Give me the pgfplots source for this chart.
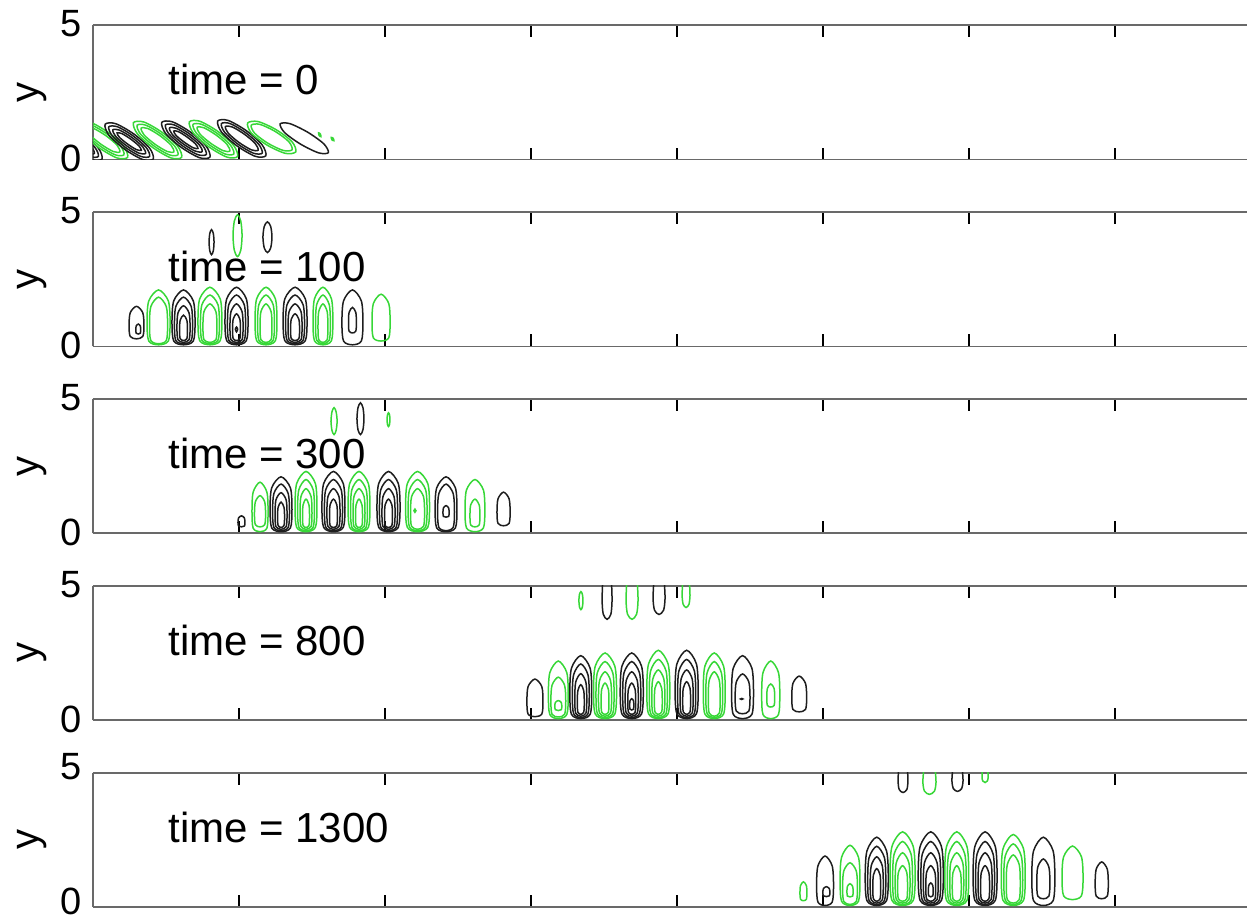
\documentclass[border=0pt]{standalone}
\usepackage{fontspec}
\setmainfont{Liberation Sans}
\usepackage{pgfplots}
\pgfplotsset{compat=1.18}

\definecolor{cblack}{RGB}{30,30,30}
\definecolor{cgreen}{RGB}{55,215,55}
\definecolor{spine}{RGB}{105,105,105}

\pgfplotsset{
  panel/.style={
    scale only axis, width=577pt, height=67.25pt,
    xmin=0, xmax=7.904, ymin=0, ymax=5,
    axis x line*=box, axis y line*=left,
    axis line style={spine, line width=0.9pt},
    xtick={1,2,3,4,5,6,7}, xticklabels={},
    ytick={0,5},
    tick align=inside, major tick length=6pt,
    tick style={black, line width=0.7pt},
    /pgf/number format/assume math mode=true,
    yticklabel style={font=\fontsize{19}{23}\selectfont, inner sep=0pt, xshift=-5.5pt, yshift=0.5pt},
    ylabel={y},
    every axis y label/.style={at={(axis description cs:-0.0529,0.5)}, rotate=90, anchor=center, font=\fontsize{20}{24}\selectfont},
  },
  closedline/.style={line width=0.75pt, smooth cycle},
  openline/.style={line width=0.75pt, smooth},
}
% closed contour lines
\newcommand\blk[1]{\addplot[closedline, cblack] coordinates {#1};}
\newcommand\grn[1]{\addplot[closedline, cgreen] coordinates {#1};}
% contour lines leaving through the top of the domain
\newcommand\blko[1]{\addplot[openline, cblack] coordinates {#1};}
\newcommand\grno[1]{\addplot[openline, cgreen] coordinates {#1};}
\newcommand\stamp[1]{\node[anchor=base west, inner sep=0pt, font=\fontsize{21}{25}\selectfont] at (axis cs:0.514,2.42) {time = #1};}

\begin{document}
\begin{tikzpicture}

% ---------------- time = 0 ----------------
\begin{axis}[panel, at={(0pt,0pt)}, anchor=north west]
\blk{(-0.268,1.310) (-0.196,1.332) (-0.072,0.951) (0.036,0.428) (0.062,0.020) (-0.010,-0.002) (-0.134,0.379) (-0.242,0.902)}
\blk{(-0.243,1.213) (-0.183,1.216) (-0.079,0.888) (0.013,0.448) (0.037,0.117) (-0.023,0.114) (-0.127,0.442) (-0.219,0.882)}
\blk{(-0.215,1.104) (-0.169,1.091) (-0.086,0.824) (-0.011,0.477) (0.009,0.226) (-0.037,0.239) (-0.120,0.506) (-0.195,0.853)}
\grn{(-0.093,1.370) (-0.021,1.392) (0.103,1.011) (0.211,0.488) (0.237,0.080) (0.165,0.058) (0.041,0.439) (-0.067,0.962)}
\grn{(-0.068,1.273) (-0.008,1.276) (0.096,0.948) (0.188,0.508) (0.212,0.177) (0.152,0.174) (0.048,0.502) (-0.044,0.942)}
\grn{(-0.040,1.164) (0.006,1.151) (0.089,0.884) (0.164,0.537) (0.184,0.286) (0.138,0.299) (0.055,0.566) (-0.020,0.913)}
\blk{(0.083,1.310) (0.155,1.332) (0.279,0.951) (0.387,0.428) (0.413,0.020) (0.341,-0.002) (0.217,0.379) (0.109,0.902)}
\blk{(0.108,1.213) (0.168,1.216) (0.272,0.888) (0.364,0.448) (0.388,0.117) (0.328,0.114) (0.224,0.442) (0.132,0.882)}
\blk{(0.136,1.104) (0.182,1.091) (0.265,0.824) (0.340,0.477) (0.360,0.226) (0.314,0.239) (0.231,0.506) (0.156,0.853)}
\blk{(0.165,0.988) (0.198,0.963) (0.258,0.760) (0.314,0.511) (0.331,0.342) (0.298,0.367) (0.238,0.570) (0.182,0.819)}
\grn{(0.277,1.370) (0.349,1.392) (0.473,1.011) (0.581,0.488) (0.607,0.080) (0.535,0.058) (0.411,0.439) (0.303,0.962)}
\grn{(0.302,1.273) (0.362,1.276) (0.466,0.948) (0.558,0.508) (0.582,0.177) (0.522,0.174) (0.418,0.502) (0.326,0.942)}
\grn{(0.330,1.164) (0.376,1.151) (0.459,0.884) (0.534,0.537) (0.554,0.286) (0.508,0.299) (0.425,0.566) (0.350,0.913)}
\blk{(0.471,1.380) (0.543,1.402) (0.667,1.021) (0.775,0.498) (0.801,0.090) (0.729,0.068) (0.605,0.449) (0.497,0.972)}
\blk{(0.496,1.283) (0.556,1.286) (0.660,0.958) (0.752,0.518) (0.776,0.187) (0.716,0.184) (0.612,0.512) (0.520,0.952)}
\blk{(0.524,1.174) (0.570,1.161) (0.653,0.894) (0.728,0.547) (0.748,0.296) (0.702,0.309) (0.619,0.576) (0.544,0.923)}
\blk{(0.553,1.058) (0.586,1.033) (0.646,0.830) (0.702,0.581) (0.719,0.412) (0.686,0.437) (0.626,0.640) (0.570,0.889)}
\grn{(0.660,1.400) (0.732,1.422) (0.856,1.041) (0.964,0.518) (0.990,0.110) (0.918,0.088) (0.794,0.469) (0.686,0.992)}
\grn{(0.685,1.303) (0.745,1.306) (0.849,0.978) (0.941,0.538) (0.965,0.207) (0.905,0.204) (0.801,0.532) (0.709,0.972)}
\grn{(0.713,1.194) (0.759,1.181) (0.842,0.914) (0.917,0.567) (0.937,0.316) (0.891,0.329) (0.808,0.596) (0.733,0.943)}
\blk{(0.854,1.430) (0.926,1.452) (1.050,1.071) (1.158,0.548) (1.184,0.140) (1.112,0.118) (0.988,0.499) (0.880,1.022)}
\blk{(0.879,1.333) (0.939,1.336) (1.043,1.008) (1.135,0.568) (1.159,0.237) (1.099,0.234) (0.995,0.562) (0.903,1.002)}
\blk{(0.907,1.224) (0.953,1.211) (1.036,0.944) (1.111,0.597) (1.131,0.346) (1.085,0.359) (1.002,0.626) (0.927,0.973)}
\grn{(1.059,1.355) (1.131,1.410) (1.255,1.106) (1.363,0.660) (1.389,0.285) (1.317,0.230) (1.193,0.534) (1.085,0.980)}
\grn{(1.084,1.275) (1.144,1.305) (1.248,1.043) (1.340,0.669) (1.364,0.365) (1.304,0.335) (1.200,0.597) (1.108,0.971)}
\blk{(1.282,1.325) (1.349,1.332) (1.471,1.013) (1.581,0.582) (1.612,0.255) (1.545,0.248) (1.423,0.567) (1.313,0.998)}
\grn{(1.545,0.99) (1.557,0.95) (1.561,0.85) (1.549,0.89)}
\grn{(1.632,0.82) (1.645,0.79) (1.650,0.70) (1.637,0.73)}
\stamp{0}
\end{axis}

% ---------------- time = 100 ----------------
\begin{axis}[panel, at={(0pt,-93.45pt)}, anchor=north west]
\blk{(0.298,1.49) (0.341,1.25) (0.349,0.76) (0.341,0.37) (0.298,0.28) (0.255,0.37) (0.247,0.76) (0.255,1.25)}
\blk{(0.310,0.83) (0.324,0.76) (0.327,0.61) (0.324,0.49) (0.310,0.46) (0.296,0.49) (0.293,0.61) (0.296,0.76)}
\grn{(0.449,2.10) (0.516,1.69) (0.528,0.88) (0.516,0.20) (0.449,0.06) (0.382,0.20) (0.370,0.88) (0.382,1.69)}
\grn{(0.449,1.83) (0.502,1.48) (0.511,0.79) (0.502,0.22) (0.449,0.10) (0.396,0.22) (0.387,0.79) (0.396,1.48)}
\blk{(0.620,2.10) (0.687,1.69) (0.699,0.88) (0.687,0.20) (0.620,0.06) (0.553,0.20) (0.541,0.88) (0.553,1.69)}
\blk{(0.620,1.83) (0.673,1.48) (0.682,0.79) (0.673,0.22) (0.620,0.10) (0.567,0.22) (0.558,0.79) (0.567,1.48)}
\blk{(0.620,1.51) (0.658,1.24) (0.665,0.69) (0.658,0.25) (0.620,0.15) (0.582,0.25) (0.575,0.69) (0.582,1.24)}
\blk{(0.620,1.16) (0.643,0.97) (0.647,0.60) (0.643,0.29) (0.620,0.22) (0.597,0.29) (0.593,0.60) (0.597,0.97)}
\grn{(0.801,2.20) (0.871,1.77) (0.883,0.92) (0.871,0.21) (0.801,0.06) (0.731,0.21) (0.719,0.92) (0.731,1.77)}
\grn{(0.801,1.91) (0.856,1.55) (0.866,0.82) (0.856,0.23) (0.801,0.10) (0.746,0.23) (0.736,0.82) (0.746,1.55)}
\grn{(0.801,1.58) (0.842,1.29) (0.849,0.72) (0.842,0.25) (0.801,0.15) (0.760,0.25) (0.753,0.72) (0.760,1.29)}
\blk{(0.983,2.20) (1.050,1.77) (1.062,0.92) (1.050,0.21) (0.983,0.06) (0.916,0.21) (0.904,0.92) (0.916,1.77)}
\blk{(0.983,1.91) (1.036,1.55) (1.045,0.82) (1.036,0.23) (0.983,0.10) (0.930,0.23) (0.921,0.82) (0.930,1.55)}
\blk{(0.983,1.58) (1.021,1.29) (1.028,0.72) (1.021,0.25) (0.983,0.15) (0.945,0.25) (0.938,0.72) (0.945,1.29)}
\blk{(0.983,1.21) (1.006,1.01) (1.010,0.62) (1.006,0.29) (0.983,0.22) (0.960,0.29) (0.956,0.62) (0.960,1.01)}
\blk{(0.983,0.72) (0.991,0.64) (0.983,0.54) (0.975,0.64)}
\grn{(1.185,2.20) (1.249,1.77) (1.260,0.92) (1.249,0.21) (1.185,0.06) (1.121,0.21) (1.110,0.92) (1.121,1.77)}
\grn{(1.185,1.91) (1.234,1.55) (1.243,0.82) (1.234,0.23) (1.185,0.10) (1.136,0.23) (1.127,0.82) (1.136,1.55)}
\grn{(1.185,1.58) (1.220,1.29) (1.226,0.72) (1.220,0.25) (1.185,0.15) (1.150,0.25) (1.144,0.72) (1.150,1.29)}
\blk{(1.384,2.20) (1.454,1.77) (1.466,0.92) (1.454,0.21) (1.384,0.06) (1.314,0.21) (1.302,0.92) (1.314,1.77)}
\blk{(1.384,1.91) (1.439,1.55) (1.449,0.82) (1.439,0.23) (1.384,0.10) (1.329,0.23) (1.319,0.82) (1.329,1.55)}
\blk{(1.384,1.58) (1.425,1.29) (1.432,0.72) (1.425,0.25) (1.384,0.15) (1.343,0.25) (1.336,0.72) (1.343,1.29)}
\blk{(1.384,1.21) (1.410,1.01) (1.415,0.62) (1.410,0.29) (1.384,0.22) (1.358,0.29) (1.353,0.62) (1.358,1.01)}
\grn{(1.575,2.20) (1.633,1.77) (1.643,0.92) (1.633,0.21) (1.575,0.06) (1.517,0.21) (1.507,0.92) (1.517,1.77)}
\grn{(1.575,1.91) (1.618,1.55) (1.626,0.82) (1.618,0.23) (1.575,0.10) (1.532,0.23) (1.524,0.82) (1.532,1.55)}
\grn{(1.575,1.58) (1.604,1.29) (1.609,0.72) (1.604,0.25) (1.575,0.15) (1.546,0.25) (1.541,0.72) (1.546,1.29)}
\blk{(1.777,2.10) (1.838,1.69) (1.849,0.88) (1.838,0.20) (1.777,0.06) (1.716,0.20) (1.705,0.88) (1.716,1.69)}
\blk{(1.777,1.45) (1.800,1.26) (1.804,0.88) (1.800,0.57) (1.777,0.50) (1.754,0.57) (1.750,0.88) (1.754,1.26)}
\grn{(1.973,1.94) (2.026,1.59) (2.035,0.90) (2.026,0.32) (1.973,0.20) (1.920,0.32) (1.911,0.90) (1.920,1.59)}
\blk{(0.812,4.34) (0.824,4.20) (0.829,3.88) (0.824,3.55) (0.812,3.41) (0.800,3.55) (0.795,3.88) (0.800,4.20)}
\grn{(0.990,4.89) (1.012,4.66) (1.021,4.12) (1.012,3.57) (0.990,3.34) (0.968,3.57) (0.959,4.12) (0.968,4.66)}
\blk{(1.195,4.63) (1.217,4.46) (1.226,4.06) (1.217,3.66) (1.195,3.49) (1.173,3.66) (1.164,4.06) (1.173,4.46)}
\stamp{100}
\end{axis}

% ---------------- time = 300 ----------------
\begin{axis}[panel, at={(0pt,-186.9pt)}, anchor=north west]
\blk{(1.017,0.65) (1.037,0.57) (1.041,0.40) (1.037,0.27) (1.017,0.24) (0.997,0.27) (0.993,0.40) (0.997,0.57)}
\grn{(1.144,1.90) (1.191,1.53) (1.199,0.80) (1.191,0.19) (1.144,0.06) (1.097,0.19) (1.089,0.80) (1.097,1.53)}
\grn{(1.144,1.40) (1.176,1.17) (1.182,0.70) (1.176,0.32) (1.144,0.24) (1.112,0.32) (1.106,0.70) (1.112,1.17)}
\blk{(1.288,2.10) (1.352,1.69) (1.363,0.88) (1.352,0.20) (1.288,0.06) (1.224,0.20) (1.213,0.88) (1.224,1.69)}
\blk{(1.288,1.83) (1.337,1.48) (1.346,0.79) (1.337,0.22) (1.288,0.10) (1.239,0.22) (1.230,0.79) (1.239,1.48)}
\blk{(1.288,1.51) (1.323,1.24) (1.329,0.69) (1.323,0.25) (1.288,0.15) (1.253,0.25) (1.247,0.69) (1.253,1.24)}
\blk{(1.288,1.16) (1.308,0.97) (1.312,0.60) (1.308,0.29) (1.288,0.22) (1.268,0.29) (1.264,0.60) (1.268,0.97)}
\grn{(1.459,2.30) (1.523,1.85) (1.534,0.96) (1.523,0.22) (1.459,0.06) (1.395,0.22) (1.384,0.96) (1.395,1.85)}
\grn{(1.459,2.00) (1.508,1.62) (1.517,0.86) (1.508,0.23) (1.459,0.10) (1.410,0.23) (1.401,0.86) (1.410,1.62)}
\grn{(1.459,1.66) (1.494,1.36) (1.500,0.75) (1.494,0.26) (1.459,0.15) (1.424,0.26) (1.418,0.75) (1.424,1.36)}
\grn{(1.459,1.27) (1.479,1.06) (1.483,0.64) (1.479,0.29) (1.459,0.22) (1.439,0.29) (1.435,0.64) (1.439,1.06)}
\blk{(1.647,2.30) (1.714,1.85) (1.726,0.96) (1.714,0.22) (1.647,0.06) (1.580,0.22) (1.568,0.96) (1.580,1.85)}
\blk{(1.647,2.00) (1.700,1.62) (1.709,0.86) (1.700,0.23) (1.647,0.10) (1.594,0.23) (1.585,0.86) (1.594,1.62)}
\blk{(1.647,1.66) (1.685,1.36) (1.692,0.75) (1.685,0.26) (1.647,0.15) (1.609,0.26) (1.602,0.75) (1.609,1.36)}
\blk{(1.647,1.27) (1.670,1.06) (1.674,0.64) (1.670,0.29) (1.647,0.22) (1.624,0.29) (1.620,0.64) (1.624,1.06)}
\grn{(1.822,2.30) (1.886,1.85) (1.897,0.96) (1.886,0.22) (1.822,0.06) (1.758,0.22) (1.747,0.96) (1.758,1.85)}
\grn{(1.822,2.00) (1.871,1.62) (1.880,0.86) (1.871,0.23) (1.822,0.10) (1.773,0.23) (1.764,0.86) (1.773,1.62)}
\grn{(1.822,1.66) (1.857,1.36) (1.863,0.75) (1.857,0.26) (1.822,0.15) (1.787,0.26) (1.781,0.75) (1.787,1.36)}
\grn{(1.822,1.27) (1.842,1.06) (1.846,0.64) (1.842,0.29) (1.822,0.22) (1.802,0.29) (1.798,0.64) (1.802,1.06)}
\blk{(2.024,2.30) (2.091,1.85) (2.103,0.96) (2.091,0.22) (2.024,0.06) (1.957,0.22) (1.945,0.96) (1.957,1.85)}
\blk{(2.024,2.00) (2.077,1.62) (2.086,0.86) (2.077,0.23) (2.024,0.10) (1.971,0.23) (1.962,0.86) (1.971,1.62)}
\blk{(2.024,1.66) (2.062,1.36) (2.069,0.75) (2.062,0.26) (2.024,0.15) (1.986,0.26) (1.979,0.75) (1.986,1.36)}
\blk{(2.024,1.27) (2.047,1.06) (2.051,0.64) (2.047,0.29) (2.024,0.22) (2.001,0.29) (1.997,0.64) (2.001,1.06)}
\grn{(2.223,2.30) (2.293,1.85) (2.305,0.96) (2.293,0.22) (2.223,0.06) (2.153,0.22) (2.141,0.96) (2.153,1.85)}
\grn{(2.223,2.00) (2.278,1.62) (2.288,0.86) (2.278,0.23) (2.223,0.10) (2.168,0.23) (2.158,0.86) (2.168,1.62)}
\grn{(2.223,1.66) (2.264,1.36) (2.271,0.75) (2.264,0.26) (2.223,0.15) (2.182,0.26) (2.175,0.75) (2.182,1.36)}
\grn{(2.205,0.90) (2.212,0.84) (2.205,0.78) (2.198,0.84)}
\blk{(2.418,2.10) (2.482,1.69) (2.493,0.88) (2.482,0.20) (2.418,0.06) (2.354,0.20) (2.343,0.88) (2.354,1.69)}
\blk{(2.418,1.83) (2.467,1.48) (2.476,0.79) (2.467,0.22) (2.418,0.10) (2.369,0.22) (2.360,0.79) (2.369,1.48)}
\blk{(2.418,1.03) (2.436,0.94) (2.439,0.77) (2.436,0.63) (2.418,0.60) (2.400,0.63) (2.397,0.77) (2.400,0.94)}
\grn{(2.616,2.00) (2.674,1.61) (2.684,0.84) (2.674,0.20) (2.616,0.06) (2.558,0.20) (2.548,0.84) (2.558,1.61)}
\grn{(2.616,1.27) (2.645,1.06) (2.650,0.65) (2.645,0.31) (2.616,0.24) (2.587,0.31) (2.582,0.65) (2.587,1.06)}
\blk{(2.812,1.53) (2.850,1.28) (2.857,0.78) (2.850,0.37) (2.812,0.28) (2.774,0.37) (2.767,0.78) (2.774,1.28)}
\grn{(1.651,4.67) (1.665,4.52) (1.672,4.17) (1.665,3.82) (1.651,3.67) (1.637,3.82) (1.630,4.17) (1.637,4.52)}
\blk{(1.832,4.85) (1.849,4.67) (1.856,4.26) (1.849,3.85) (1.832,3.67) (1.815,3.85) (1.808,4.26) (1.815,4.67)}
\grn{(2.024,4.48) (2.031,4.40) (2.034,4.23) (2.031,4.05) (2.024,3.97) (2.017,4.05) (2.014,4.23) (2.017,4.40)}
\stamp{300}
\end{axis}

% ---------------- time = 800 ----------------
\begin{axis}[panel, at={(0pt,-280.35pt)}, anchor=north west]
\blk{(3.027,1.53) (3.074,1.25) (3.082,0.69) (3.074,0.23) (3.027,0.13) (2.980,0.23) (2.972,0.69) (2.980,1.25)}
\grn{(3.187,2.20) (3.245,1.77) (3.255,0.92) (3.245,0.21) (3.187,0.06) (3.129,0.21) (3.119,0.92) (3.129,1.77)}
\grn{(3.187,1.60) (3.230,1.30) (3.238,0.71) (3.230,0.22) (3.187,0.12) (3.144,0.22) (3.136,0.71) (3.144,1.30)}
\grn{(3.187,0.73) (3.207,0.66) (3.211,0.51) (3.207,0.39) (3.187,0.36) (3.167,0.39) (3.163,0.51) (3.167,0.66)}
\blk{(3.341,2.40) (3.405,1.93) (3.416,1.00) (3.405,0.22) (3.341,0.06) (3.277,0.22) (3.266,1.00) (3.277,1.93)}
\blk{(3.341,2.09) (3.390,1.69) (3.399,0.90) (3.390,0.24) (3.341,0.10) (3.292,0.24) (3.283,0.90) (3.292,1.69)}
\blk{(3.341,1.73) (3.376,1.41) (3.382,0.78) (3.376,0.26) (3.341,0.15) (3.306,0.26) (3.300,0.78) (3.306,1.41)}
\blk{(3.341,1.32) (3.361,1.10) (3.365,0.66) (3.361,0.30) (3.341,0.22) (3.321,0.30) (3.317,0.66) (3.321,1.10)}
\grn{(3.507,2.50) (3.574,2.01) (3.586,1.04) (3.574,0.23) (3.507,0.06) (3.440,0.23) (3.428,1.04) (3.440,2.01)}
\grn{(3.507,2.18) (3.560,1.76) (3.569,0.93) (3.560,0.25) (3.507,0.10) (3.454,0.25) (3.445,0.93) (3.454,1.76)}
\grn{(3.507,1.80) (3.545,1.47) (3.552,0.81) (3.545,0.27) (3.507,0.15) (3.469,0.27) (3.462,0.81) (3.469,1.47)}
\grn{(3.507,1.38) (3.530,1.15) (3.534,0.68) (3.530,0.30) (3.507,0.22) (3.484,0.30) (3.480,0.68) (3.484,1.15)}
\blk{(3.690,2.50) (3.757,2.01) (3.769,1.04) (3.757,0.23) (3.690,0.06) (3.623,0.23) (3.611,1.04) (3.623,2.01)}
\blk{(3.690,2.18) (3.743,1.76) (3.752,0.93) (3.743,0.25) (3.690,0.10) (3.637,0.25) (3.628,0.93) (3.637,1.76)}
\blk{(3.690,1.80) (3.728,1.47) (3.735,0.81) (3.728,0.27) (3.690,0.15) (3.652,0.27) (3.645,0.81) (3.652,1.47)}
\blk{(3.690,1.38) (3.713,1.15) (3.717,0.68) (3.713,0.30) (3.690,0.22) (3.667,0.30) (3.663,0.68) (3.667,1.15)}
\blk{(3.690,0.80) (3.702,0.72) (3.704,0.55) (3.702,0.41) (3.690,0.38) (3.678,0.41) (3.676,0.55) (3.678,0.72)}
\grn{(3.872,2.60) (3.939,2.09) (3.951,1.08) (3.939,0.24) (3.872,0.06) (3.805,0.24) (3.793,1.08) (3.805,2.09)}
\grn{(3.872,2.26) (3.925,1.83) (3.934,0.96) (3.925,0.25) (3.872,0.10) (3.819,0.25) (3.810,0.96) (3.819,1.83)}
\grn{(3.872,1.87) (3.910,1.53) (3.917,0.84) (3.910,0.27) (3.872,0.15) (3.834,0.27) (3.827,0.84) (3.834,1.53)}
\grn{(3.872,1.43) (3.895,1.19) (3.899,0.70) (3.895,0.31) (3.872,0.22) (3.849,0.31) (3.845,0.70) (3.849,1.19)}
\blk{(4.066,2.60) (4.133,2.09) (4.145,1.08) (4.133,0.24) (4.066,0.06) (3.999,0.24) (3.987,1.08) (3.999,2.09)}
\blk{(4.066,2.26) (4.119,1.83) (4.128,0.96) (4.119,0.25) (4.066,0.10) (4.013,0.25) (4.004,0.96) (4.013,1.83)}
\blk{(4.066,1.87) (4.104,1.53) (4.111,0.84) (4.104,0.27) (4.066,0.15) (4.028,0.27) (4.021,0.84) (4.028,1.53)}
\blk{(4.066,1.43) (4.089,1.19) (4.093,0.70) (4.089,0.31) (4.066,0.22) (4.043,0.31) (4.039,0.70) (4.043,1.19)}
\grn{(4.255,2.50) (4.319,2.01) (4.330,1.04) (4.319,0.23) (4.255,0.06) (4.191,0.23) (4.180,1.04) (4.191,2.01)}
\grn{(4.255,2.18) (4.304,1.76) (4.313,0.93) (4.304,0.25) (4.255,0.10) (4.206,0.25) (4.197,0.93) (4.206,1.76)}
\grn{(4.255,1.80) (4.290,1.47) (4.296,0.81) (4.290,0.27) (4.255,0.15) (4.220,0.27) (4.214,0.81) (4.220,1.47)}
\blk{(4.449,2.40) (4.513,1.93) (4.524,1.00) (4.513,0.22) (4.449,0.06) (4.385,0.22) (4.374,1.00) (4.385,1.93)}
\blk{(4.449,1.72) (4.492,1.42) (4.500,0.83) (4.492,0.34) (4.449,0.24) (4.406,0.34) (4.398,0.83) (4.406,1.42)}
\blk{(4.443,0.81) (4.451,0.79) (4.443,0.77) (4.435,0.79)}
\grn{(4.642,2.20) (4.695,1.77) (4.704,0.92) (4.695,0.21) (4.642,0.06) (4.589,0.21) (4.580,0.92) (4.589,1.77)}
\grn{(4.642,1.35) (4.665,1.18) (4.669,0.83) (4.665,0.55) (4.642,0.49) (4.619,0.55) (4.615,0.83) (4.619,1.18)}
\blk{(4.837,1.64) (4.880,1.37) (4.888,0.84) (4.880,0.40) (4.837,0.31) (4.794,0.40) (4.786,0.84) (4.794,1.37)}
\grn{(3.342,4.78) (3.352,4.68) (3.356,4.45) (3.352,4.21) (3.342,4.11) (3.332,4.21) (3.328,4.45) (3.332,4.68)}
\blko{(3.490,5.05) (3.487,4.44) (3.495,3.94) (3.521,3.75) (3.547,3.94) (3.555,4.44) (3.552,5.05)}
\grno{(3.655,5.05) (3.651,4.44) (3.661,3.94) (3.692,3.75) (3.723,3.94) (3.733,4.44) (3.729,5.05)}
\blko{(3.840,5.05) (3.836,4.52) (3.846,4.09) (3.877,3.93) (3.908,4.09) (3.918,4.52) (3.914,5.05)}
\grno{(4.038,5.05) (4.035,4.64) (4.042,4.31) (4.062,4.19) (4.082,4.31) (4.089,4.64) (4.086,5.05)}
\stamp{800}
\end{axis}

% ---------------- time = 1300 ----------------
\begin{axis}[panel, at={(0pt,-373.8pt)}, anchor=north west, yticklabel style={yshift=2.5pt}]
\grn{(4.866,0.94) (4.886,0.80) (4.890,0.52) (4.886,0.29) (4.866,0.24) (4.846,0.29) (4.842,0.52) (4.846,0.80)}
\blk{(5.014,1.90) (5.063,1.53) (5.072,0.80) (5.063,0.19) (5.014,0.06) (4.965,0.19) (4.956,0.80) (4.965,1.53)}
\blk{(5.023,0.76) (5.043,0.69) (5.047,0.54) (5.043,0.42) (5.023,0.39) (5.003,0.42) (4.999,0.54) (5.003,0.69)}
\grn{(5.185,2.30) (5.243,1.85) (5.253,0.96) (5.243,0.22) (5.185,0.06) (5.127,0.22) (5.117,0.96) (5.127,1.85)}
\grn{(5.185,1.65) (5.228,1.34) (5.236,0.72) (5.228,0.21) (5.185,0.10) (5.142,0.21) (5.134,0.72) (5.142,1.34)}
\grn{(5.185,0.87) (5.203,0.77) (5.206,0.58) (5.203,0.41) (5.185,0.38) (5.167,0.41) (5.164,0.58) (5.167,0.77)}
\blk{(5.368,2.60) (5.435,2.09) (5.447,1.08) (5.435,0.24) (5.368,0.06) (5.301,0.24) (5.289,1.08) (5.301,2.09)}
\blk{(5.368,2.26) (5.421,1.83) (5.430,0.96) (5.421,0.25) (5.368,0.10) (5.315,0.25) (5.306,0.96) (5.315,1.83)}
\blk{(5.368,1.87) (5.406,1.53) (5.413,0.84) (5.406,0.27) (5.368,0.15) (5.330,0.27) (5.323,0.84) (5.330,1.53)}
\blk{(5.368,1.43) (5.391,1.19) (5.395,0.70) (5.391,0.31) (5.368,0.22) (5.345,0.31) (5.341,0.70) (5.345,1.19)}
\grn{(5.545,2.80) (5.618,2.25) (5.631,1.16) (5.618,0.25) (5.545,0.06) (5.472,0.25) (5.459,1.16) (5.472,2.25)}
\grn{(5.545,2.44) (5.603,1.97) (5.613,1.04) (5.603,0.26) (5.545,0.10) (5.487,0.26) (5.477,1.04) (5.487,1.97)}
\grn{(5.545,2.02) (5.588,1.65) (5.596,0.90) (5.588,0.28) (5.545,0.15) (5.502,0.28) (5.494,0.90) (5.502,1.65)}
\grn{(5.545,1.54) (5.574,1.28) (5.579,0.75) (5.574,0.31) (5.545,0.22) (5.516,0.31) (5.511,0.75) (5.516,1.28)}
\blk{(5.738,2.80) (5.811,2.25) (5.824,1.16) (5.811,0.25) (5.738,0.06) (5.665,0.25) (5.652,1.16) (5.665,2.25)}
\blk{(5.738,2.44) (5.796,1.97) (5.806,1.04) (5.796,0.26) (5.738,0.10) (5.680,0.26) (5.670,1.04) (5.680,1.97)}
\blk{(5.738,2.02) (5.781,1.65) (5.789,0.90) (5.781,0.28) (5.738,0.15) (5.695,0.28) (5.687,0.90) (5.695,1.65)}
\blk{(5.738,1.54) (5.767,1.28) (5.772,0.75) (5.767,0.31) (5.738,0.22) (5.709,0.31) (5.704,0.75) (5.709,1.28)}
\blk{(5.738,0.90) (5.752,0.80) (5.755,0.59) (5.752,0.42) (5.738,0.38) (5.724,0.42) (5.721,0.59) (5.724,0.80)}
\grn{(5.916,2.80) (5.986,2.25) (5.998,1.16) (5.986,0.25) (5.916,0.06) (5.846,0.25) (5.834,1.16) (5.846,2.25)}
\grn{(5.916,2.44) (5.971,1.97) (5.981,1.04) (5.971,0.26) (5.916,0.10) (5.861,0.26) (5.851,1.04) (5.861,1.97)}
\grn{(5.916,2.02) (5.957,1.65) (5.964,0.90) (5.957,0.28) (5.916,0.15) (5.875,0.28) (5.868,0.90) (5.875,1.65)}
\grn{(5.916,1.54) (5.942,1.28) (5.947,0.75) (5.942,0.31) (5.916,0.22) (5.890,0.31) (5.885,0.75) (5.890,1.28)}
\blk{(6.110,2.80) (6.180,2.25) (6.192,1.16) (6.180,0.25) (6.110,0.06) (6.040,0.25) (6.028,1.16) (6.040,2.25)}
\blk{(6.110,2.44) (6.165,1.97) (6.175,1.04) (6.165,0.26) (6.110,0.10) (6.055,0.26) (6.045,1.04) (6.055,1.97)}
\blk{(6.110,2.02) (6.151,1.65) (6.158,0.90) (6.151,0.28) (6.110,0.15) (6.069,0.28) (6.062,0.90) (6.069,1.65)}
\blk{(6.110,1.54) (6.136,1.28) (6.141,0.75) (6.136,0.31) (6.110,0.22) (6.084,0.31) (6.079,0.75) (6.084,1.28)}
\grn{(6.303,2.70) (6.373,2.17) (6.385,1.12) (6.373,0.25) (6.303,0.06) (6.233,0.25) (6.221,1.12) (6.233,2.17)}
\grn{(6.303,2.35) (6.358,1.90) (6.368,1.00) (6.358,0.26) (6.303,0.10) (6.248,0.26) (6.238,1.00) (6.248,1.90)}
\grn{(6.303,1.94) (6.344,1.58) (6.351,0.87) (6.344,0.28) (6.303,0.15) (6.262,0.28) (6.255,0.87) (6.262,1.58)}
\blk{(6.509,2.60) (6.576,2.09) (6.588,1.08) (6.576,0.24) (6.509,0.06) (6.442,0.24) (6.430,1.08) (6.442,2.09)}
\blk{(6.509,1.79) (6.547,1.49) (6.554,0.90) (6.547,0.41) (6.509,0.31) (6.471,0.41) (6.464,0.90) (6.471,1.49)}
\grn{(6.709,2.27) (6.770,1.87) (6.781,1.08) (6.770,0.42) (6.709,0.28) (6.648,0.42) (6.637,1.08) (6.648,1.87)}
\blk{(6.909,1.68) (6.947,1.41) (6.954,0.86) (6.947,0.41) (6.909,0.31) (6.871,0.41) (6.864,0.86) (6.871,1.41)}
\blko{(5.517,5.05) (5.514,4.67) (5.522,4.37) (5.548,4.26) (5.574,4.37) (5.582,4.67) (5.579,5.05)}
\grno{(5.689,5.05) (5.684,4.64) (5.695,4.31) (5.729,4.19) (5.763,4.31) (5.774,4.64) (5.769,5.05)}
\blko{(5.887,5.05) (5.883,4.69) (5.892,4.41) (5.921,4.30) (5.950,4.41) (5.959,4.69) (5.955,5.05)}
\grno{(6.091,5.05) (6.089,4.83) (6.094,4.69) (6.110,4.63) (6.126,4.69) (6.131,4.83) (6.129,5.05)}
\stamp{1300}
\end{axis}

\pgfresetboundingbox
\useasboundingbox (-46.5pt,12.5pt) rectangle (577pt,-447.5pt);
\end{tikzpicture}
\end{document}
